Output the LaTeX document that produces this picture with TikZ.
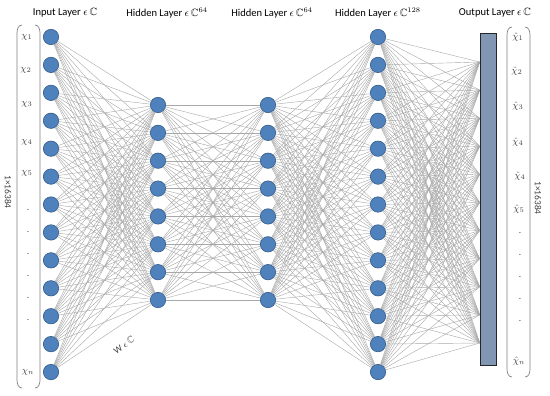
\documentclass[tikz,border=0pt]{standalone}
\usepackage{amssymb}
\usepackage{fontspec}
\setmainfont{Carlito}
\usepackage{xcolor}
\definecolor{nodeblue}{HTML}{4F81BD}
\definecolor{nodeedge}{HTML}{3A6391}
\definecolor{barblue}{HTML}{8196B3}
\definecolor{wiregray}{HTML}{A8A8A8}
\definecolor{bracegray}{HTML}{808080}

\begin{document}
\begin{tikzpicture}[x=0.03cm,y=-0.03cm,font=\small,
  neuron/.style={circle,draw=nodeedge,fill=nodeblue,line width=.6pt,minimum size=.46cm,inner sep=0pt},
  wire/.style={draw=wiregray,line width=.35pt},
  brace/.style={draw=bracegray,line width=.6pt},
  vecentry/.style={font=\footnotesize,text=black!75}]
\useasboundingbox (0,0) rectangle (550,396);

% layer titles
\node (t-in) at (65,13) {Input Layer $\epsilon\,\mathbb{C}$};
\node (t-ha) at (167,13) {Hidden Layer $\epsilon\,\mathbb{C}^{64}$};
\node (t-hb) at (272,13) {Hidden Layer $\epsilon\,\mathbb{C}^{64}$};
\node (t-hc) at (378,13) {Hidden Layer $\epsilon\,\mathbb{C}^{128}$};
\node (t-out) at (495,13) {Output Layer $\epsilon\,\mathbb{C}$};

% neurons
\foreach \i in {1,...,13} {
  \node[neuron] (in-\i) at (51,{37+27.92*(\i-1)}) {};
  \node[neuron] (hc-\i) at (378,{37+27.92*(\i-1)}) {};
}
\foreach \i in {1,...,8} {
  \node[neuron] (ha-\i) at (158,{105+27.86*(\i-1)}) {};
  \node[neuron] (hb-\i) at (268,{105+27.86*(\i-1)}) {};
}

% output bar and its inputs
\node[draw=black!85,fill=barblue,line width=.8pt,minimum width=.5cm,minimum height=9.96cm,inner sep=0pt] (outbar) at (488.5,199) {};
\foreach \j in {1,...,11}
  \coordinate (o-\j) at (outbar.west |- 0,{62+28.1*(\j-1)});

% weights
\foreach \i in {1,...,13}
  \foreach \j in {1,...,8}
    \draw[wire] (in-\i) -- (ha-\j);
\foreach \i in {1,...,8}
  \foreach \j in {1,...,8}
    \draw[wire] (ha-\i) -- (hb-\j);
\foreach \i in {1,...,8}
  \foreach \j in {1,...,13}
    \draw[wire] (hb-\i) -- (hc-\j);
\foreach \i in {1,...,13}
  \foreach \j in {1,...,11}
    \draw[wire] (hc-\i) -- (o-\j);

% input vector
\draw[brace] (22,25) to[out=180,in=90] (17,33) -- (17,380) to[out=-90,in=180] (22,388);
\draw[brace] (35,25) to[out=0,in=90] (40,33) -- (40,380) to[out=-90,in=0] (35,388);
\node[vecentry] (x-1) at (27,37) {$\chi_1$};
\node[vecentry] (x-2) at (26,70) {$\chi_2$};
\node[vecentry] (x-3) at (27,104) {$\chi_3$};
\node[vecentry] (x-4) at (27,142) {$\chi_4$};
\node[vecentry] (x-5) at (27,173) {$\chi_5$};
\foreach \y in {210,232,254,276,298,320}
  \node[vecentry] at (28,\y) {.};
\node[vecentry] (x-n) at (28,372) {$\chi_n$};
\node[rotate=-90,font=\footnotesize,text=black!75] (dim-in) at (8,192) {1×16384};

% output vector
\draw[brace] (512,27) to[out=180,in=90] (507,35) -- (507,369) to[out=-90,in=180] (512,377);
\draw[brace] (525,27) to[out=0,in=90] (530,35) -- (530,369) to[out=-90,in=0] (525,377);
\node[vecentry] (y-1) at (518,37) {$\hat{\chi}_1$};
\node[vecentry] (y-2) at (517,71) {$\hat{\chi}_2$};
\node[vecentry] (y-3) at (518,106) {$\hat{\chi}_3$};
\node[vecentry] (y-4) at (518,142) {$\hat{\chi}_4$};
\node[vecentry] (y-4b) at (520,176) {$\hat{\chi}_4$};
\node[vecentry] (y-5) at (519,209) {$\hat{\chi}_5$};
\foreach \y in {233,255,277,299,321}
  \node[vecentry] at (520,\y) {.};
\node[vecentry] (y-n) at (519,361) {$\hat{\chi}_n$};
\node[rotate=-90,font=\footnotesize,text=black!75] (dim-out) at (538,198) {1×16384};

% weight label
\node[rotate=35,font=\footnotesize,text=black!75] (w) at (124,345) {W $\epsilon\,\mathbb{C}$};
\end{tikzpicture}
\end{document}
